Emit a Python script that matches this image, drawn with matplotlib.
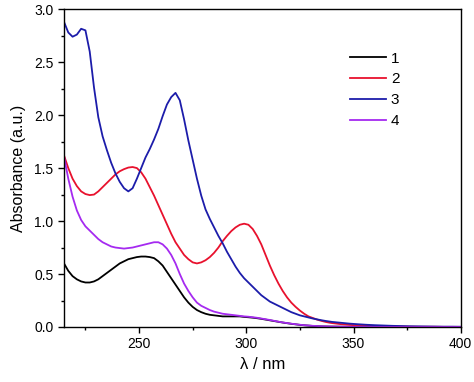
import numpy as np
import matplotlib
matplotlib.use('Agg')
import matplotlib.pyplot as plt
from matplotlib.ticker import MultipleLocator

plt.rcParams['font.family'] = ['Liberation Sans', 'DejaVu Sans']

# wavelength grid (nm)
wl = list(range(215, 341, 2)) + list(range(340, 401, 4))

abs1 = [0.60, 0.53, 0.48, 0.45, 0.43, 0.42, 0.42, 0.43, 0.45, 0.48,
        0.51, 0.54, 0.57, 0.60, 0.62, 0.64, 0.65, 0.66, 0.665, 0.665,
        0.66, 0.65, 0.62, 0.58, 0.52, 0.46, 0.40, 0.34, 0.28, 0.23,
        0.19, 0.16, 0.14, 0.125, 0.115, 0.11, 0.105, 0.10, 0.10, 0.10,
        0.10, 0.10, 0.095,
        0.092, 0.088, 0.083, 0.077, 0.07, 0.063, 0.056, 0.049, 0.042, 0.036,
        0.03, 0.025, 0.02, 0.016, 0.013, 0.01, 0.008, 0.006, 0.005, 0.004,
        0.004, 0.003, 0.002, 0.002, 0.001, 0.001, 0.001, 0.001, 0.001, 0.001,
        0.001, 0.001, 0.001, 0.001, 0.001, 0.001]

abs2 = [1.62, 1.50, 1.40, 1.33, 1.28, 1.255, 1.245, 1.25, 1.28, 1.32,
        1.36, 1.40, 1.44, 1.47, 1.49, 1.505, 1.51, 1.50, 1.46, 1.40,
        1.32, 1.24, 1.15, 1.06, 0.97, 0.88, 0.80, 0.74, 0.68, 0.64,
        0.61, 0.60, 0.61, 0.63, 0.66, 0.70, 0.75, 0.81, 0.86, 0.905,
        0.94, 0.965, 0.975,
        0.965, 0.925, 0.86, 0.78, 0.68, 0.58, 0.49, 0.41, 0.34, 0.28,
        0.23, 0.19, 0.155, 0.125, 0.10, 0.085, 0.07, 0.058, 0.048, 0.04,
        0.037, 0.027, 0.02, 0.015, 0.011, 0.008, 0.006, 0.005, 0.004, 0.003,
        0.002, 0.002, 0.002, 0.001, 0.001, 0.001]

abs3 = [2.88, 2.78, 2.74, 2.76, 2.815, 2.80, 2.60, 2.26, 1.98, 1.80,
        1.67, 1.55, 1.45, 1.37, 1.31, 1.28, 1.31, 1.40, 1.50, 1.60,
        1.68, 1.77, 1.87, 1.99, 2.10, 2.17, 2.21, 2.14, 1.96, 1.76,
        1.58, 1.40, 1.24, 1.11, 1.02, 0.94, 0.86, 0.79, 0.71, 0.64,
        0.57, 0.51, 0.46,
        0.42, 0.38, 0.34, 0.30, 0.27, 0.24, 0.22, 0.20, 0.18, 0.16,
        0.14, 0.125, 0.11, 0.10, 0.09, 0.08, 0.072, 0.064, 0.057, 0.051,
        0.048, 0.04, 0.032, 0.026, 0.021, 0.017, 0.014, 0.011, 0.009, 0.007,
        0.006, 0.005, 0.004, 0.003, 0.003, 0.002]

abs4 = [1.61, 1.40, 1.23, 1.10, 1.01, 0.95, 0.91, 0.87, 0.83, 0.80,
        0.78, 0.76, 0.75, 0.745, 0.74, 0.745, 0.75, 0.76, 0.77, 0.78,
        0.79, 0.80, 0.80, 0.78, 0.74, 0.68, 0.60, 0.50, 0.41, 0.34,
        0.28, 0.23, 0.20, 0.18, 0.16, 0.145, 0.135, 0.125, 0.12, 0.115,
        0.11, 0.105, 0.10,
        0.097, 0.092, 0.087, 0.08, 0.073, 0.066, 0.058, 0.05, 0.043, 0.037,
        0.031, 0.026, 0.021, 0.017, 0.014, 0.011, 0.009, 0.007, 0.006, 0.005,
        0.004, 0.003, 0.002, 0.002, 0.001, 0.001, 0.001, 0.001, 0.001, 0.001,
        0.001, 0.001, 0.001, 0.001, 0.001, 0.001]

labels = ['1', '2', '3', '4']
colors = ['#000000', '#e8112d', '#1c1caa', '#a52af0']

fig = plt.figure(figsize=(4.74, 3.82), dpi=100)
ax = fig.add_axes([0.135, 0.144, 0.837, 0.832])

for y, lab, c in zip([abs1, abs2, abs3, abs4], labels, colors):
    ax.plot(wl, y, color=c, lw=1.3, label=lab)

ax.set_xlim(215, 400)
ax.set_ylim(0, 3.0)
ax.xaxis.set_major_locator(MultipleLocator(50))
ax.xaxis.set_minor_locator(MultipleLocator(25))
ax.yaxis.set_major_locator(MultipleLocator(0.5))
ax.yaxis.set_minor_locator(MultipleLocator(0.25))
ax.yaxis.set_major_formatter(matplotlib.ticker.FormatStrFormatter('%.1f'))
ax.tick_params(which='major', direction='out', length=4, width=1, labelsize=10)
ax.tick_params(which='minor', direction='out', length=2.5, width=1)
for s in ax.spines.values():
    s.set_linewidth(1)

ax.set_xlabel('λ / nm', fontsize=12, labelpad=4)
ax.set_ylabel('Absorbance (a.u.)', fontsize=11.5, labelpad=6)

ax.legend(loc='upper left', bbox_to_anchor=(0.685, 0.91), frameon=False,
          fontsize=11, handlelength=2.4, handletextpad=0.3, labelspacing=0.45)

fig.savefig('out.png', dpi=100)
